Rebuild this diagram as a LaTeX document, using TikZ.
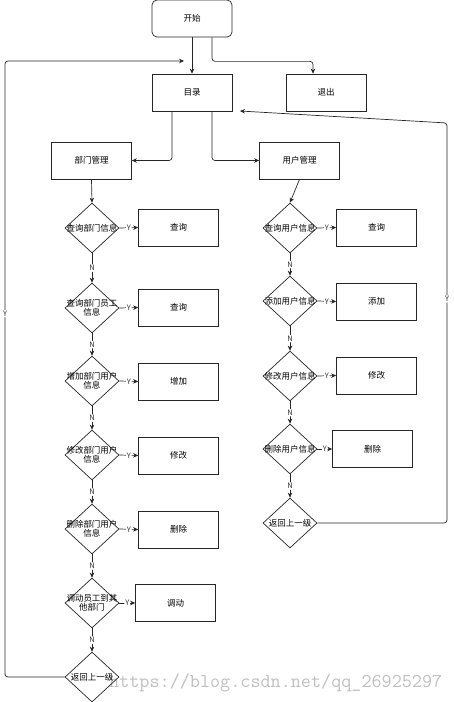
\documentclass[tikz,border=0pt]{standalone}
\usepackage{fontspec}
\newfontfamily\cjk{Noto Sans CJK SC}
\usetikzlibrary{shapes.geometric,arrows.meta}
\tikzset{
  base/.style={draw=black!85, line width=0.7pt, font=\cjk\fontsize{8.5}{9}\selectfont, inner sep=0pt},
  box/.style={base, rectangle, minimum width=80pt, minimum height=37pt},
  startbox/.style={box, rounded corners=5pt},
  dia/.style={base, diamond, minimum width=54pt, minimum height=50pt},
  dtext/.style={font=\cjk\fontsize{8.5}{9}\selectfont, align=center, inner sep=0pt},
  arr/.style={draw=black!85, line width=0.7pt, -{Stealth[length=5pt,width=4.5pt]}, rounded corners=3pt},
  lbl/.style={font=\cjk\fontsize{7.5}{8}\selectfont, fill=white, inner sep=1pt, text=black!80},
}
\begin{document}
\begin{tikzpicture}[x=1pt,y=-1pt]
\useasboundingbox (0,0) rectangle (453,702);
% watermark
\node[anchor=base west, font=\ttfamily\fontsize{19.6}{19.6}\selectfont, text=black!25, inner sep=0pt] (wm) at (109,687) {https://blog.csdn.net/qq\_26925297};
% top
\node[startbox] (start) at (192,18.5) {开始};
\node[box] (menu) at (192,92.5) {目录};
\node[box] (exit) at (326,92.5) {退出};
\node[box] (dept) at (91.5,160.5) {部门管理};
\node[box] (user) at (299.5,160.5) {用户管理};
% left column
\node[dia, label={[dtext]center:查询部门信息}] (ld1) at (92,228) {};
\node[dia, label={[dtext]center:查询部门员工\\信息}] (ld2) at (92,308) {};
\node[dia, label={[dtext]center:增加部门用户\\信息}] (ld3) at (92,381) {};
\node[dia, label={[dtext]center:修改部门用户\\信息}] (ld4) at (92,455) {};
\node[dia, label={[dtext]center:删除部门用户\\信息}] (ld5) at (92,529) {};
\node[dia, label={[dtext]center:调动员工到其\\他部门}] (ld6) at (92,603) {};
\node[dia, label={[dtext]center:返回上一级}] (ld7) at (92,677) {};
\node[box] (lb1) at (178.5,227.5) {查询};
\node[box] (lb2) at (178.5,307.5) {查询};
\node[box] (lb3) at (178.5,381.5) {增加};
\node[box] (lb4) at (178.5,455.5) {修改};
\node[box] (lb5) at (178.5,529.5) {删除};
\node[box] (lb6) at (175.5,603) {调动};
% right column
\node[dia, label={[dtext]center:查询用户信息}] (rd1) at (290,228) {};
\node[dia, label={[dtext]center:添加用户信息}] (rd2) at (290,301) {};
\node[dia, label={[dtext]center:修改用户信息}] (rd3) at (290,376) {};
\node[dia, label={[dtext]center:删除用户信息}] (rd4) at (290,449) {};
\node[dia, label={[dtext]center:返回上一级}] (rd5) at (290,523) {};
\node[box] (rb1) at (376.5,227.5) {查询};
\node[box] (rb2) at (376.5,301.5) {添加};
\node[box] (rb3) at (376.5,375.5) {修改};
\node[box] (rb4) at (372.5,449) {删除};
% coordinates
\coordinate (lret) at (184,61);
\coordinate (rret) at (240,111);
% top connectors
\draw[arr] (start.south) -- (menu.north);
\draw[arr] ([xshift=20pt]start.south) -- ++(0,24) -| ([xshift=-13pt]exit.north);
\draw[arr] ([xshift=-20pt]menu.south) |- (dept.east);
\draw[arr] ([xshift=20pt]menu.south) |- (user.west);
\draw[arr] (dept.south) -- (ld1.north);
\draw[arr] (user.south) -- (rd1.north);
% left column connectors
\foreach \i in {1,...,6} {
  \draw[arr] (ld\i.east) -- node[lbl]{Y} (lb\i.west);
}
\foreach \i/\j in {1/2,2/3,3/4,4/5,5/6,6/7} {
  \draw[arr] (ld\i.south) -- node[lbl]{N} (ld\j.north);
}
% right column connectors
\foreach \i in {1,...,4} {
  \draw[arr] (rd\i.east) -- node[lbl]{Y} (rb\i.west);
}
\foreach \i/\j in {1/2,2/3,3/4,4/5} {
  \draw[arr] (rd\i.south) -- node[lbl]{N} (rd\j.north);
}
% returns
\draw[arr] (ld7.west) -| node[lbl, pos=0.795]{Y} (5,61) -- (lret);
\draw[arr] (rd5.east) -| node[lbl, pos=0.78]{Y} (447,123) -- (rret);
\end{tikzpicture}
\end{document}
